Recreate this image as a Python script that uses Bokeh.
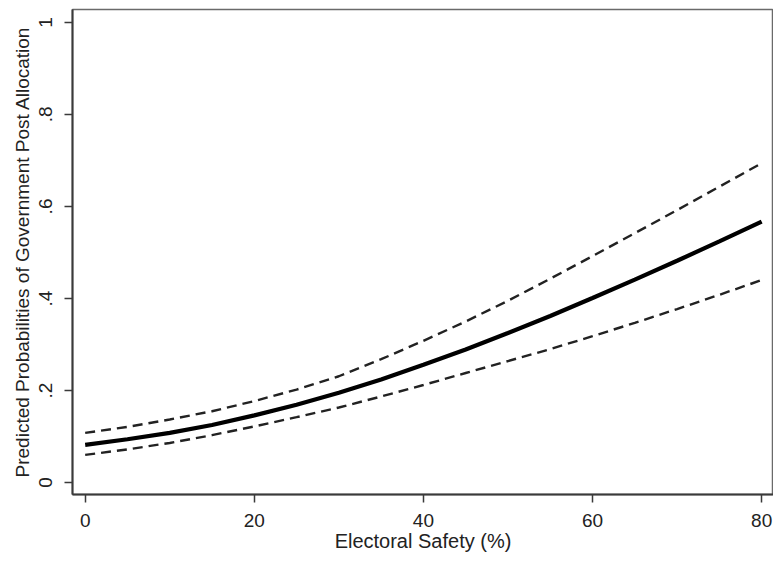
import math
from bokeh.plotting import figure
from bokeh.models import FixedTicker, Range1d
from bokeh.embed import file_html
from bokeh.resources import INLINE

# Data
safety = [0, 5, 10, 15, 20, 25, 30, 35, 40, 45, 50, 55, 60, 65, 70, 75, 80]
predicted = [0.082, 0.094, 0.108, 0.125, 0.146, 0.169, 0.195, 0.224, 0.256, 0.289,
             0.325, 0.362, 0.401, 0.441, 0.482, 0.524, 0.567]
upper_ci = [0.108, 0.121, 0.137, 0.155, 0.177, 0.202, 0.231, 0.268, 0.308, 0.350,
            0.395, 0.443, 0.492, 0.542, 0.592, 0.643, 0.694]
lower_ci = [0.060, 0.072, 0.086, 0.103, 0.122, 0.142, 0.163, 0.187, 0.212, 0.238,
            0.264, 0.290, 0.318, 0.347, 0.377, 0.408, 0.440]

x_ticks = [0, 20, 40, 60, 80]
y_ticks = [0, 0.2, 0.4, 0.6, 0.8, 1.0]
y_tick_labels = {0: "0", 0.2: ".2", 0.4: ".4", 0.6: ".6", 0.8: ".8", 1.0: "1"}

FONT = "Liberation Sans"

p = figure(width=773, height=554, output_backend="svg", toolbar_location=None,
           x_range=Range1d(-1.5, 81.4), y_range=Range1d(-0.026, 1.028),
           min_border_left=72, min_border_right=0, min_border_top=9,
           min_border_bottom=57)

p.background_fill_color = "white"
p.border_fill_color = "white"
p.outline_line_color = "#6a6a6a"
p.outline_line_width = 1.5
p.xgrid.visible = False
p.ygrid.visible = False

p.line(safety, upper_ci, line_color="#222222", line_width=2.4, line_dash="10 6")
p.line(safety, lower_ci, line_color="#222222", line_width=2.4, line_dash="10 6")
p.line(safety, predicted, line_color="black", line_width=4.2)

for ax in (p.xaxis[0], p.yaxis[0]):
    ax.axis_line_color = "#3a3a3a"
    ax.axis_line_width = 2
    ax.major_tick_line_color = "#3a3a3a"
    ax.major_tick_line_width = 1.5
    ax.major_tick_out = 8
    ax.major_tick_in = 0
    ax.minor_tick_line_color = None
    ax.major_label_text_font = FONT
    ax.major_label_text_font_size = "19px"
    ax.major_label_text_color = "#222222"
    ax.axis_label_text_font = FONT
    ax.axis_label_text_font_style = "normal"
    ax.axis_label_text_color = "#222222"

p.xaxis[0].ticker = FixedTicker(ticks=x_ticks)
p.xaxis[0].axis_label = "Electoral Safety (%)"
p.xaxis[0].axis_label_text_font_size = "20px"
p.xaxis[0].major_label_standoff = 11
p.xaxis[0].axis_label_standoff = 0

p.yaxis[0].ticker = FixedTicker(ticks=y_ticks)
p.yaxis[0].major_label_overrides = y_tick_labels
p.yaxis[0].major_label_orientation = "parallel"
p.yaxis[0].axis_label = "Predicted Probabilities of Government Post Allocation"
p.yaxis[0].axis_label_text_font_size = "19px"
p.yaxis[0].major_label_standoff = 12
p.yaxis[0].axis_label_standoff = 4

open("out.html", "w").write(file_html(p, INLINE))
